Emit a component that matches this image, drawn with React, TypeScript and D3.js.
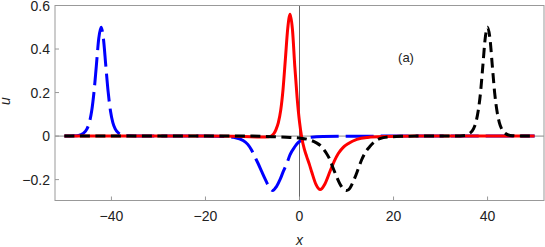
import React from 'react';
import * as d3 from 'd3';

// values: [x, u]
const blueSeries: [number, number][] = [
  [-50, 0], [-48, 0.001], [-47, 0.003], [-46, 0.012], [-45.2, 0.033], [-44.7, 0.062],
  [-44.2, 0.115], [-43.7, 0.204], [-43.2, 0.325], [-42.7, 0.447], [-42.2, 0.5],
  [-41.7, 0.447], [-41.2, 0.325], [-40.7, 0.204], [-40.2, 0.115], [-39.7, 0.062],
  [-39.2, 0.033], [-38.4, 0.012], [-37.4, 0.003], [-36, 0.001], [-34, 0],
  [-20, 0], [-16, -0.002], [-14, -0.006], [-12, -0.02], [-11, -0.038], [-10.2, -0.064],
  [-9.5, -0.095], [-8.8, -0.126], [-8, -0.165], [-7.3, -0.198], [-6.5, -0.232], [-5.7, -0.25],
  [-4.9, -0.232], [-4.1, -0.198], [-3.4, -0.16], [-2.7, -0.126], [-2.0, -0.085], [-1.0, -0.049],
  [-0.3, -0.03], [0.5, -0.018], [1.5, -0.009], [2.5, -0.005], [5, -0.002], [10, -0.001],
  [20, 0], [50, 0],
];

const redSeries: [number, number][] = [
  [-50, 0], [-20, 0], [-12, -0.002], [-8, -0.004], [-6.5, -0.003], [-5.5, 0.01], [-5, 0.03],
  [-4.5, 0.062], [-4, 0.118], [-3.5, 0.215], [-3, 0.355], [-2.5, 0.495], [-2, 0.56],
  [-1.5, 0.49], [-1, 0.32], [-0.5, 0.175], [0, 0.065], [0.5, -0.01], [1, -0.058],
  [1.5, -0.092], [2.1, -0.13], [2.6, -0.165], [3.5, -0.222], [4.4, -0.246], [5.4, -0.22],
  [6.6, -0.156], [7.4, -0.115], [8.25, -0.08], [9.3, -0.052], [10.4, -0.034], [12.2, -0.015],
  [14.5, -0.006], [18, -0.002], [25, 0], [50, 0],
];

const blackSeries: [number, number][] = [
  [-50, 0], [-10, 0], [-6, -0.003], [-2, -0.006], [0, -0.009], [2.2, -0.018], [3.5, -0.03],
  [4.7, -0.049], [5.6, -0.075], [6.5, -0.11], [7.2, -0.15], [7.9, -0.187], [8.6, -0.22],
  [9.3, -0.242], [10, -0.25], [10.7, -0.24], [11.3, -0.215], [11.8, -0.19], [12.5, -0.15],
  [13.2, -0.11], [14, -0.075], [15, -0.047], [16, -0.026], [17.1, -0.012], [19, -0.004],
  [22, -0.001], [25, 0], [33, 0], [35.2, 0.003], [36.2, 0.012], [37, 0.033], [37.5, 0.062],
  [38, 0.115], [38.5, 0.2], [39, 0.325], [39.5, 0.45], [40, 0.5], [40.5, 0.45], [41, 0.325],
  [41.5, 0.2], [42, 0.115], [42.5, 0.062], [43, 0.033], [43.8, 0.012], [44.8, 0.003],
  [47, 0], [50, 0],
];

const xTicks = [-40, -20, 0, 20, 40];
const yTicks = [-0.2, 0, 0.2, 0.4, 0.6];

const W = 545;
const H = 247;

const fmt = (v: number) => (v < 0 ? '\u2212' + Math.abs(v) : String(v));

export default function App() {
  const x = d3.scaleLinear().domain([-52, 52]).range([55, 544]);
  const y = d3.scaleLinear().domain([-0.296, 0.6]).range([200.5, 5.5]);

  const line = d3
    .line<[number, number]>()
    .x((d) => x(d[0]))
    .y((d) => y(d[1]))
    .curve(d3.curveMonotoneX);

  const [x0, x1] = x.range();
  const [yb, yt] = y.range();
  const font = '"Liberation Sans", Arial, sans-serif';

  return (
    <svg width={W} height={H} style={{ position: 'absolute', left: 0, top: 0 }}>
      <rect width={W} height={H} fill="#fff" />
      {/* axes through origin */}
      <line x1={x0} x2={x1} y1={y(0)} y2={y(0)} stroke="#888" strokeWidth={1} />
      <line x1={x(0)} x2={x(0)} y1={yb} y2={yt} stroke="#666" strokeWidth={1} />

      <path d={line(blueSeries) || ''} fill="none" stroke="#0000ff" strokeWidth={3}
        strokeDasharray="28 7" />
      <path d={line(redSeries) || ''} fill="none" stroke="#ff0000" strokeWidth={3} />
      <path d={line(blackSeries) || ''} fill="none" stroke="#000" strokeWidth={3}
        strokeDasharray="10 5.5" />

      {/* frame */}
      <rect x={x0} y={yt} width={x1 - x0} height={yb - yt} fill="none" stroke="#999" strokeWidth={1} />

      {xTicks.map((t) => (
        <g key={'x' + t}>
          <line x1={x(t)} x2={x(t)} y1={yb} y2={yb - 4} stroke="#999" />
          <text x={x(t)} y={221} textAnchor="middle" fontSize={14} fontFamily={font} fill="#222">
            {fmt(t)}
          </text>
        </g>
      ))}
      {yTicks.map((t) => (
        <g key={'y' + t}>
          <line x1={x0} x2={x0 + 4} y1={y(t)} y2={y(t)} stroke="#999" />
          <text x={50} y={y(t) + 5} textAnchor="end" fontSize={14} fontFamily={font} fill="#222">
            {fmt(t)}
          </text>
        </g>
      ))}

      <text x={x(0)} y={245} textAnchor="middle" fontSize={14} fontStyle="italic"
        fontFamily={font} fill="#222">x</text>
      <text transform={`translate(10,101) rotate(-90)`} textAnchor="middle" fontSize={14}
        fontStyle="italic" fontFamily={font} fill="#222">u</text>
      <text x={406} y={62} textAnchor="middle" fontSize={13} fontFamily={font} fill="#222">(a)</text>
    </svg>
  );
}
